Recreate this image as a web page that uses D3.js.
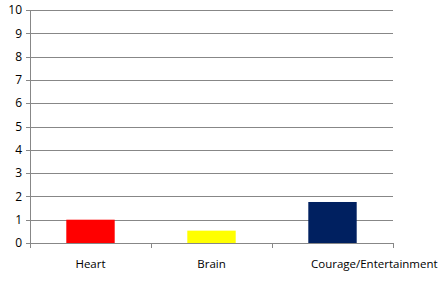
<!DOCTYPE html>
<html>
<head>
<meta charset="utf-8">
<script src="https://cdn.jsdelivr.net/npm/d3@7"></script>
<style>
    body { margin: 0; background: #fff; }
    text { font-family: "Open Sans", "Liberation Sans", sans-serif; fill: #000; }
</style>
</head>
<body>
<div id="chart"></div>
<script>
// data
const categories = ["Heart", "Brain", "Courage/Entertainment"];
const values = [1, 0.53, 1.76];
const colors = ["#ff0000", "#ffff00", "#002060"];
const yTicks = [0, 1, 2, 3, 4, 5, 6, 7, 8, 9, 10];

const width = 446, height = 291;
const margin = { top: 10, right: 53, bottom: 48, left: 30 };

const svg = d3.select("#chart")
    .append("svg")
    .attr("width", width)
    .attr("height", height);

const g = svg.append("g")
    .attr("transform", `translate(${margin.left}, ${margin.top})`);

const w = width - margin.left - margin.right;
const h = height - margin.top - margin.bottom;

const xScale = d3.scaleBand()
    .domain(categories)
    .range([0, w])
    .paddingInner(0)
    .paddingOuter(0);

const yScale = d3.scaleLinear()
    .domain([0, 10])
    .range([h, 0]);

// gridlines + y ticks
g.selectAll(".grid")
    .data(yTicks)
    .enter()
    .append("line")
    .attr("x1", -4)
    .attr("x2", w)
    .attr("y1", d => Math.round(yScale(d)) + 0.5)
    .attr("y2", d => Math.round(yScale(d)) + 0.5)
    .attr("stroke", "#878787")
    .attr("stroke-width", 1);

g.selectAll(".ylab")
    .data(yTicks)
    .enter()
    .append("text")
    .attr("x", -8)
    .attr("y", d => yScale(d))
    .attr("dy", "0.35em")
    .style("text-anchor", "end")
    .style("font-size", "12px")
    .text(d => d);

// y axis line
g.append("line")
    .attr("x1", 0.5).attr("x2", 0.5)
    .attr("y1", 0).attr("y2", h)
    .attr("stroke", "#878787");

// x category tick marks
const bounds = categories.map(c => xScale(c)).concat([w]);
g.selectAll(".xtick")
    .data(bounds)
    .enter()
    .append("line")
    .attr("x1", d => Math.round(d) + 0.5)
    .attr("x2", d => Math.round(d) + 0.5)
    .attr("y1", h)
    .attr("y2", h + 5)
    .attr("stroke", "#878787");

// bars
const barW = xScale.bandwidth() * 0.4;
g.selectAll("rect")
    .data(values)
    .enter()
    .append("rect")
    .attr("fill", (d, i) => colors[i])
    .attr("x", (d, i) => xScale(categories[i]) + (xScale.bandwidth() - barW) / 2)
    .attr("y", d => yScale(d))
    .attr("width", barW)
    .attr("height", d => yScale(0) - yScale(d));

// x labels (last one is pushed right like the original)
g.selectAll(".xlab")
    .data(categories)
    .enter()
    .append("text")
    .attr("x", (d, i) => i === categories.length - 1
        ? xScale(d) + 39
        : xScale(d) + xScale.bandwidth() / 2)
    .attr("y", h + 25)
    .style("text-anchor", (d, i) => i === categories.length - 1 ? "start" : "middle")
    .style("font-size", "11.5px")
    .text(d => d);
</script>
</body>
</html>
